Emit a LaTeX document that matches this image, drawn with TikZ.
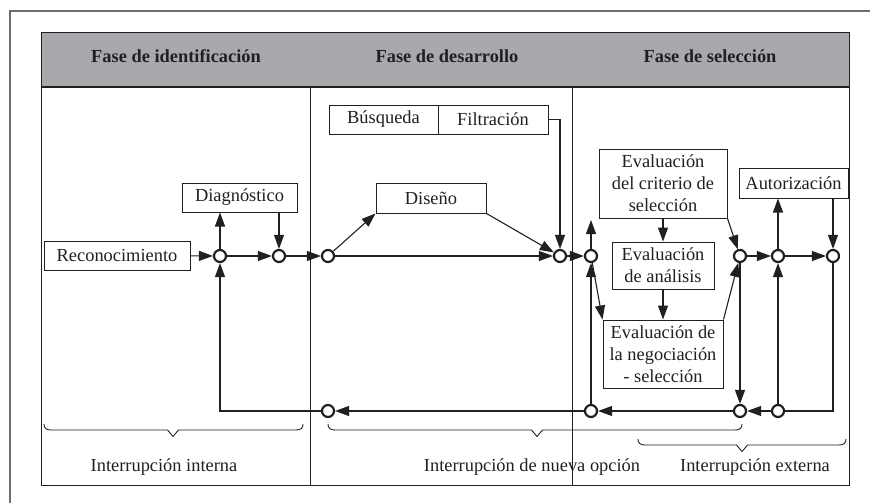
\documentclass[tikz,border=0pt]{standalone}
\usepackage{fontspec}
\setmainfont{Liberation Serif}
\usetikzlibrary{arrows.meta}
\definecolor{ink}{HTML}{231F20}
\definecolor{band}{HTML}{A7A9AC}
\definecolor{framegray}{HTML}{6D6E71}

\begin{document}
\begin{tikzpicture}[x=1pt,y=-1pt,
  every node/.style={font=\fontsize{18.4}{22}\selectfont, text=ink},
  box/.style={draw=ink, line width=1pt, fill=white, inner sep=0pt, align=center},
  junc/.style={circle, draw=ink, line width=2.2pt, fill=white, minimum size=12pt, inner sep=0pt},
  flow/.style={draw=ink, line width=1.1pt, -{Triangle[length=14pt,width=10pt]}},
  link/.style={draw=ink, line width=1.1pt},
  brace/.style={draw=ink, line width=0.9pt},
  head/.style={font=\fontsize{18.4}{22}\selectfont\bfseries},
]
\useasboundingbox (0,0) rectangle (870,503);

% outer page frame
\draw[framegray, line width=1.5pt] (10,503) -- (10,11) -- (870,11);

% table: header band, border, column rules
\fill[band] (41,33) rectangle (849,87);
\draw[ink, line width=1pt] (41,33) rectangle (849,485);
\draw[ink, line width=1.2pt] (41,87) -- (849,87);
\draw[ink, line width=1pt] (310,87) -- (310,485);
\draw[ink, line width=1pt] (572,87) -- (572,485);

\node[head] (h1) at (176,56) {Fase de identificación};
\node[head] (h2) at (447,56) {Fase de desarrollo};
\node[head] (h3) at (710,56) {Fase de selección};

% activity boxes
\node[box, minimum width=146pt, minimum height=29pt] (rec) at (117,255.5) {Reconocimiento};
\node[box, minimum width=115pt, minimum height=29pt] (diag) at (239.5,197.5) {Diagnóstico};
\node[box, minimum width=109pt, minimum height=29pt] (bus) at (383.5,119.5) {Búsqueda};
\node[box, minimum width=110pt, minimum height=29pt] (fil) at (493,119.5) {Filtración};
\node[box, minimum width=110pt, minimum height=30pt] (dis) at (431,198) {Diseño};
\node[box, minimum width=128pt, minimum height=69pt] (crit) at (663,183.5) {Evaluación\\del criterio de\\selección};
\node[box, minimum width=102pt, minimum height=47pt] (anal) at (663,265.5) {Evaluación\\de análisis};
\node[box, minimum width=120pt, minimum height=68pt] (neg) at (663,354) {Evaluación de\\la negociación\\- selección};
\node[box, minimum width=109pt, minimum height=30pt] (aut) at (793.5,183) {Autorización};

% junctions on the main line
\node[junc] (c1) at (220,256) {};
\node[junc] (c2) at (279,256) {};
\node[junc] (c3) at (328,256) {};
\node[junc] (c4) at (560,256) {};
\node[junc] (c5) at (591,256) {};
\node[junc] (c6) at (740,256) {};
\node[junc] (c7) at (778,256) {};
\node[junc] (c8) at (833,256) {};
% junctions on the return line
\node[junc] (b1) at (328,411) {};
\node[junc] (b2) at (591,411) {};
\node[junc] (b3) at (740,411) {};
\node[junc] (b4) at (778,411) {};
\coordinate (up) at (591,220);

% identification phase
\draw[flow] (rec) -- (c1);
\draw[flow] (c1) -- (c2);
\draw[flow] (c1) -- (c1 |- diag.south);
\draw[flow] (diag.south -| c2) -- (c2);
\draw[flow] (c2) -- (c3);

% development phase
\draw[flow] (c3) -- (dis.south west);
\draw[flow] (dis.south east) -- (c4);
\draw[flow] (c3) -- (c4);
\draw[flow] (fil.east) -| (c4);
\draw[flow] (c4) -- (c5);

% selection phase
\draw[flow] (c5) -- (up);
\draw[flow] (c5) -- (neg.north west);
\draw[flow] (b2) -- (c5);
\draw[flow] (crit) -- (anal);
\draw[flow] (anal) -- (neg);
\draw[flow] (crit.south east) -- (c6);
\draw[flow] (neg.north east) -- (c6);
\draw[flow] (c6) -- (c7);
\draw[flow] (c7) -- (c7 |- aut.south);
\draw[flow] (aut.south -| c8) -- (c8);
\draw[flow] (c7) -- (c8);

% interruption loops
\draw[link] (c8) |- (b4);
\draw[flow] (b4) -- (c7);
\draw[flow] (b4) -- (b3);
\draw[flow] (c6) -- (b3);
\draw[flow] (b3) -- (b2);
\draw[flow] (b2) -- (b1);
\draw[flow] (b1) -| (c1);

% braces under the interruption spans
\draw[brace] (44,424) .. controls (44,428) and (46,430) .. (51,430) -- (167.5,430)
  -- (173,436.5) -- (178.5,430) -- (296,430) .. controls (301,430) and (303,428) .. (303,424);
\draw[brace] (328,424) .. controls (328,428) and (330,430) .. (335,430) -- (531.5,430)
  -- (537,436.5) -- (542.5,430) -- (735,430) .. controls (740,430) and (742,428) .. (742,424);
\draw[brace] (638,439) .. controls (638,443) and (640,445) .. (645,445) -- (736.5,445)
  -- (742,451.5) -- (747.5,445) -- (839,445) .. controls (844,445) and (846,443) .. (846,439);

\node (l1) at (164,467) {Interrupción interna};
\node (l2) at (532,467) {Interrupción de nueva opción};
\node (l3) at (755,467) {Interrupción externa};
\end{tikzpicture}
\end{document}
